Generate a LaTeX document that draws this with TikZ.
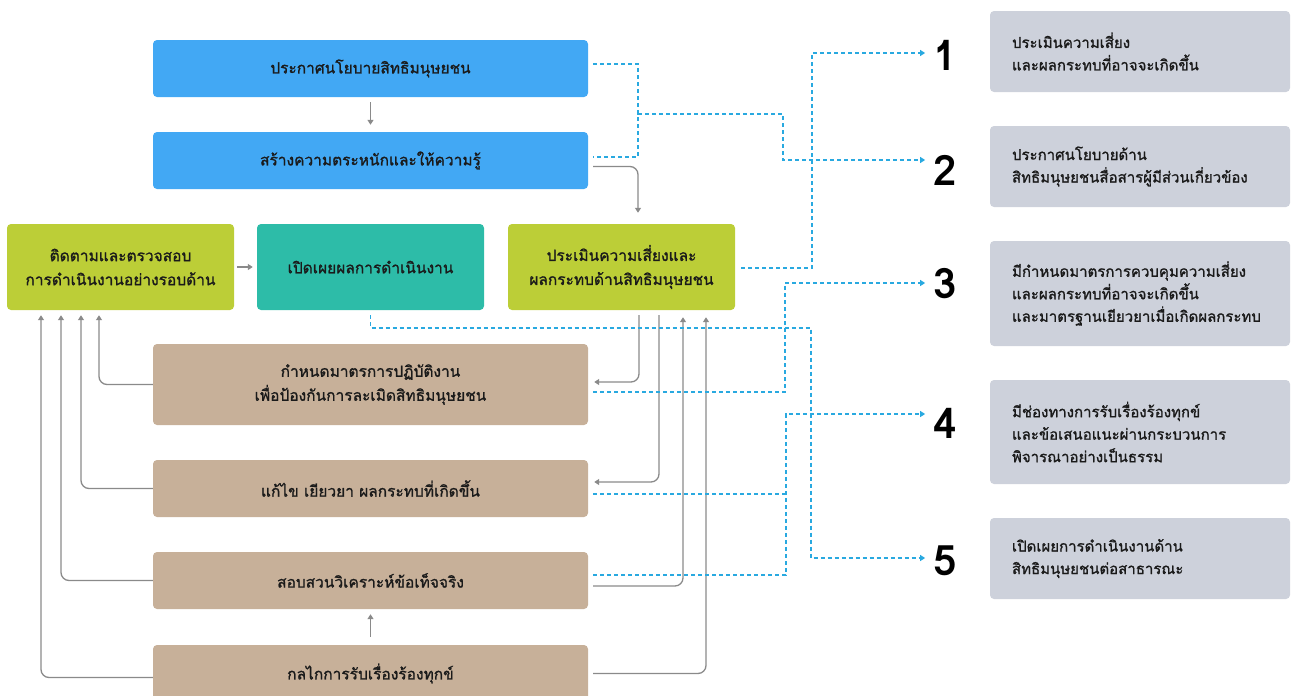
\documentclass[tikz,border=0pt]{standalone}
\usepackage{fontspec}
\setmainfont[Script=Thai]{Loma}
\newfontfamily\boxfont[Script=Thai, FakeBold=1.2]{Loma}
\usepackage{tikz}
\usetikzlibrary{arrows.meta,positioning,calc}

\definecolor{stepblue}{HTML}{42A8F4}
\definecolor{stepgreen}{HTML}{BCCE37}
\definecolor{stepteal}{HTML}{2DBCA8}
\definecolor{steptan}{HTML}{C7B099}
\definecolor{notegray}{HTML}{CDD1DB}
\definecolor{linegray}{HTML}{8A8A8A}
\definecolor{dashblue}{HTML}{29A9E0}
\definecolor{txtdark}{HTML}{1A1A1A}

\begin{document}
\begin{tikzpicture}[x=1pt, y=-1pt,
    box/.style={rectangle, rounded corners=4pt, minimum height=57pt, minimum width=435pt, align=center, text=txtdark, font=\boxfont\fontsize{15.5}{24}\selectfont},
    bluebox/.style={box, fill=stepblue},
    tanbox/.style={box, fill=steptan},
    midbox/.style={box, minimum width=227pt, minimum height=86pt},
    notebox/.style={rectangle, rounded corners=4pt, fill=notegray, minimum height=81pt, text width=256pt, inner xsep=22pt, align=left, text=txtdark, font=\boxfont\fontsize{15}{22.5}\selectfont},
    num/.style={inner sep=0pt, inner xsep=8pt, font=\fontsize{42}{42}\selectfont\bfseries, text=black},
    flow/.style={-{Triangle[length=5pt,width=6pt]}, draw=linegray, line width=1.3pt, rounded corners=8pt},
    infoline/.style={-{Triangle[length=5pt,width=6pt]}, draw=dashblue, line width=1.4pt, dash pattern=on 4pt off 3pt},
    infojoin/.style={infoline, -}
]
\useasboundingbox (0,0) rectangle (1293,696);

% Top steps
\node[bluebox] (policy) at (370.5,68.5) {ประกาศนโยบายสิทธิมนุษยชน};
\node[bluebox] (aware) at (370.5,160.5) {สร้างความตระหนักและให้ความรู้};

% Middle row
\node[midbox, fill=stepgreen] (monitor) at (120.5,267) {ติดตามและตรวจสอบ\\การดำเนินงานอย่างรอบด้าน};
\node[midbox, fill=stepteal] (disclose) at (370.5,267) {เปิดเผยผลการดำเนินงาน};
\node[midbox, fill=stepgreen] (assess) at (621.5,267) {ประเมินความเสี่ยงและ\\ผลกระทบด้านสิทธิมนุษยชน};

% Lower steps
\node[tanbox, minimum height=81pt] (measure) at (370.5,384.5) {กำหนดมาตรการปฏิบัติงาน\\เพื่อป้องกันการละเมิดสิทธิมนุษยชน};
\node[tanbox] (remedy) at (370.5,488.5) {แก้ไข เยียวยา ผลกระทบที่เกิดขึ้น};
\node[tanbox] (investigate) at (370.5,580.5) {สอบสวนวิเคราะห์ข้อเท็จจริง};
\node[tanbox] (grievance) at (370.5,673.5) {กลไกการรับเรื่องร้องทุกข์};

% Numbers
\node[num] (n1) at (945,55) {1};
\node[num] (n2) at (945,170) {2};
\node[num] (n3) at (945,284) {3};
\node[num] (n4) at (945,423) {4};
\node[num] (n5) at (945,561) {5};

% Notes
\node[notebox] (r1) at (1140,51.5) {ประเมินความเสี่ยง\\และผลกระทบที่อาจจะเกิดขึ้น};
\node[notebox] (r2) at (1140,166.5) {ประกาศนโยบายด้าน\\สิทธิมนุษยชนสื่อสารผู้มีส่วนเกี่ยวข้อง};
\node[notebox, minimum height=105pt] (r3) at (1140,293.5) {มีกำหนดมาตรการควบคุมความเสี่ยง\\และผลกระทบที่อาจจะเกิดขึ้น\\และมาตรฐานเยียวยาเมื่อเกิดผลกระทบ};
\node[notebox, minimum height=104pt] (r4) at (1140,432) {มีช่องทางการรับเรื่องร้องทุกข์\\และข้อเสนอแนะผ่านกระบวนการ\\พิจารณาอย่างเป็นธรรม};
\node[notebox] (r5) at (1140,558.5) {เปิดเผยการดำเนินงานด้าน\\สิทธิมนุษยชนต่อสาธารณะ};

% Grey arrows
\draw[flow, shorten <=5pt, shorten >=7pt] (policy) -- (aware);
\draw[flow] ([xshift=5pt,yshift=-6pt]aware.east) -| ([xshift=16.5pt,yshift=11pt]assess.north);
\draw[flow, shorten <=3pt, shorten >=4pt] (monitor) -- (disclose);
\draw[flow] ([xshift=17.5pt,yshift=-5pt]assess.south) |- ([xshift=6pt,yshift=2.5pt]measure.east);
\draw[flow] ([xshift=37.5pt,yshift=-5pt]assess.south) |- ([xshift=6pt,yshift=6.5pt]remedy.east);
\draw[flow] ([xshift=5pt,yshift=-5.5pt]investigate.east) -| ([xshift=61.5pt,yshift=-7pt]assess.south);
\draw[flow] ([xshift=5pt]grievance.east) -| ([xshift=84.5pt,yshift=-7pt]assess.south);
\draw[flow, shorten <=8pt, shorten >=5pt] (grievance) -- (investigate);

% Back to monitoring
\draw[flow] (measure.west) -| ([xshift=-21.5pt,yshift=-5pt]monitor.south);
\draw[flow] (remedy.west) -| ([xshift=-39.5pt,yshift=-5pt]monitor.south);
\draw[flow] (investigate.west) -| ([xshift=-59.5pt,yshift=-5pt]monitor.south);
\draw[flow] ([yshift=-4pt]grievance.west) -| ([xshift=-79.5pt,yshift=-5pt]monitor.south);

% Dashed links to numbers
\coordinate (j2) at (638,114);
\draw[infojoin] ([xshift=5pt,yshift=4.5pt]policy.east) -| (j2) |- ([xshift=5pt,yshift=3.5pt]aware.east);
\draw[infoline] (j2) -| (783,160) -- ([yshift=10pt]n2.west);
\draw[infoline] ([xshift=6pt,yshift=-1pt]assess.east) -| (812,53) -- ([yshift=2pt]n1.west);
\draw[infoline] ([xshift=5pt,yshift=-7.5pt]measure.east) -| (785,283) -- ([yshift=1pt]n3.west);
\draw[infoline] ([yshift=-5pt]disclose.south) |- (811,328) |- ([yshift=3pt]n5.west);
\coordinate (j4) at (786,494);
\draw[infojoin] ([xshift=5pt,yshift=-5.5pt]remedy.east) -- (j4);
\draw[infoline] ([xshift=5pt,yshift=5.5pt]investigate.east) -| (j4) |- ([yshift=9pt]n4.west);

\end{tikzpicture}
\end{document}
